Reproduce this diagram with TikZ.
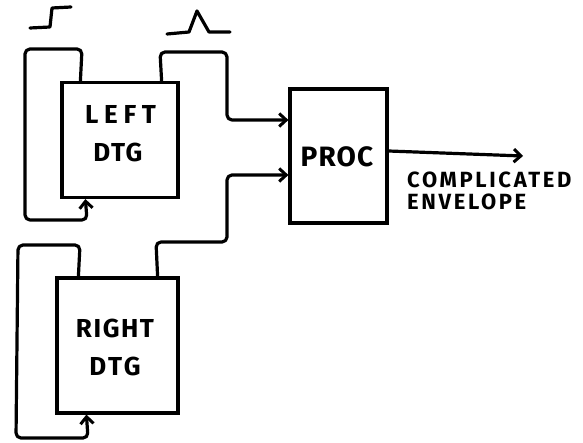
\documentclass[tikz,border=0pt]{standalone}
\usepackage{fontspec}
\setmainfont{Fira Sans}
\usetikzlibrary{arrows.meta}
\tikzset{
  wire/.style={line width=3.2pt, rounded corners=5pt, line cap=round, line join=round},
  tip/.style={-{Straight Barb[length=7pt,width=13pt,line width=3pt]}},
  blk/.style={draw, line width=3.2pt, inner sep=0pt},
  lbl/.style={inner sep=0pt, align=center, font=\bfseries\fontsize{26}{38}\selectfont},
}
\begin{document}
\begin{tikzpicture}[x=1pt,y=-1pt]
\useasboundingbox (0,0) rectangle (583,443);
% blocks
\node[blk, minimum width=116pt, minimum height=115pt] (L) at (120,140) {};
\node[blk, minimum width=97pt, minimum height=134pt] (P) at (338.5,156) {};
\node[blk, minimum width=121pt, minimum height=135pt] (R) at (117.5,345.5) {};
\node[lbl] (Lt) at (118,134) {{\addfontfeature{LetterSpace=22}LEFT\kern-5pt}\\{\addfontfeature{LetterSpace=6}DTG}};
\node[lbl, font=\bfseries\fontsize{28}{30}\selectfont\addfontfeature{LetterSpace=4}] (Pt) at (337,157) {PROC};
\node[lbl] (Rt) at (115,347) {{\addfontfeature{LetterSpace=6}RIGHT}\\{\addfontfeature{LetterSpace=10}DTG}};
\coordinate (out) at (523,156);
\node[anchor=north west, align=left, inner sep=0pt,
      font=\bfseries\fontsize{22}{22}\selectfont\addfontfeature{LetterSpace=12}] (env) at (407,172) {COMPLICATED\\ENVELOPE};
% left loop
\draw[wire, tip] ([xshift=20pt]L.north west) -- (82,49) -- (25,49) -- (25,220) -- (87,220) -- ([xshift=25pt]L.south west);
% left output to PROC
\draw[wire, tip] ([xshift=-18pt]L.north east) -- (160,52) -- (227,52) -- (227,120) -- (P.west |- 0,120);
% right output to PROC
\draw[wire, tip] ([xshift=-22pt]R.north east) -- (156,242) -- (227,242) -- (227,175) -- (P.west |- 0,175);
% right loop
\draw[wire, tip] ([xshift=23pt]R.north west) -- (80,245) -- (18,245) -- (16,438) -- (88,438) -- ([xshift=31pt]R.south west);
% PROC output
\draw[wire, tip] (P.east |- 0,151) -- (out);
% step symbol
\draw[line width=3.2pt, line cap=round, line join=round] (30,28) -- (50,27) -- (52,8) -- (71,7);
% pulse symbol
\draw[line width=3.2pt, line cap=round, line join=round] (167,34) -- (189,32) -- (197,11) -- (209,32) -- (230,32);
\end{tikzpicture}
\end{document}
